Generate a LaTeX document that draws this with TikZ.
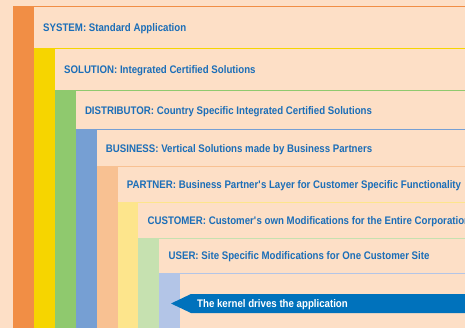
\documentclass[tikz,border=0pt]{standalone}
\usepackage{fontspec}
\setmainfont[FakeStretch=0.88]{Liberation Sans}
\usetikzlibrary{positioning}
\definecolor{bgpeach}{HTML}{FDDFC6}
\definecolor{laysystem}{HTML}{F18E45}
\definecolor{laysolution}{HTML}{F6D500}
\definecolor{laydistrib}{HTML}{8FC96E}
\definecolor{laybusiness}{HTML}{769FD3}
\definecolor{laypartner}{HTML}{F8C192}
\definecolor{laycustomer}{HTML}{FDE58C}
\definecolor{layuser}{HTML}{C6E1B0}
\definecolor{laykernel}{HTML}{B3C5E7}
\definecolor{textblue}{HTML}{1B6EB8}
\definecolor{arrowblue}{HTML}{0072BC}

\begin{document}
\begin{tikzpicture}[x=1pt, y=-1pt, layertext/.style={anchor=base west, inner sep=0pt, text=textblue, font=\bfseries\fontsize{11}{13}\selectfont}, kerneltext/.style={layertext, text=white}]
	\useasboundingbox (0,0) rectangle (465,328);
	\clip (0,0) rectangle (465,328);
	\fill[bgpeach] (0,0) rectangle (465,328);

	% layers, one column per level
	\foreach \i/\top/\bot/\col/\name/\desc in {
		0/7/49/laysystem/SYSTEM/Standard Application,
		1/49/90.5/laysolution/SOLUTION/Integrated Certified Solutions,
		2/90.5/130/laydistrib/DISTRIBUTOR/Country Specific Integrated Certified Solutions,
		3/130/167/laybusiness/BUSINESS/Vertical Solutions made by Business Partners,
		4/167/203/laypartner/PARTNER/Business Partner\textquotesingle s Layer for Customer Specific Functionality,
		5/203/239/laycustomer/CUSTOMER/Customer\textquotesingle s own Modifications for the Entire Corporation,
		6/239/273/layuser/USER/Site Specific Modifications for One Customer Site}
	{
		\fill[\col] (13+20.9*\i, \top) rectangle (33.9+20.9*\i, 328);
		\draw[\col, line width=1pt] (13+20.9*\i, \top) -- (465, \top);
		\node[layertext] (\name) at (43+20.9*\i, {(\top+\bot)/2+4}) {\name: \desc};
	}
	\fill[laykernel] (159.3, 273) rectangle (180.2, 328);
	\draw[laykernel, line width=1pt] (159.3, 273) -- (465, 273);

	% kernel banner
	\fill[arrowblue] (171,303.5) -- (191,294) -- (465,294) -- (465,313) -- (191,313) -- cycle;
	\node[kerneltext] (kernel) at (197,307.5) {The kernel drives the application};
\end{tikzpicture}
\end{document}
